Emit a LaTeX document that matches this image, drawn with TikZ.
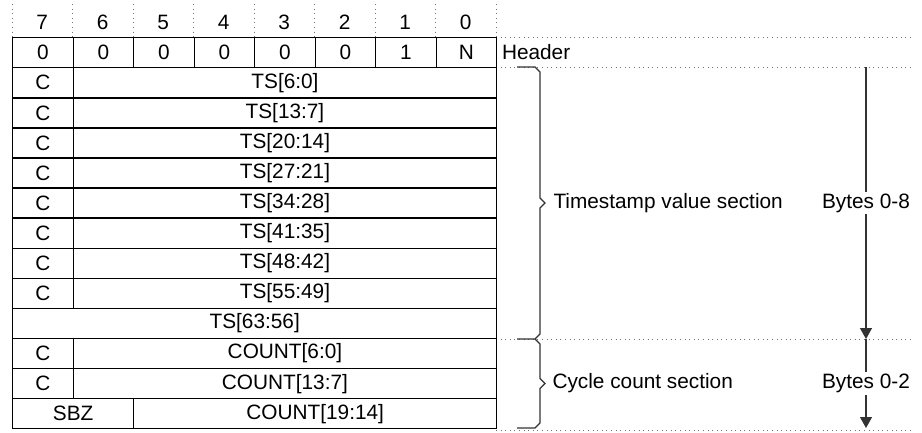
\documentclass[tikz,border=0pt]{standalone}
\usepackage{fontspec}
\setmainfont{Liberation Sans}
\usetikzlibrary{arrows.meta}

\tikzset{
  cell/.style={draw, line width=1.4pt, inner sep=0pt, minimum height=30.08pt, anchor=north west},
  guide/.style={black!55, line width=0.8pt, dash pattern=on 0.8pt off 3.8pt},
  bracket/.style={draw=black!80, line width=1.3pt},
  span/.style={draw=black!80, line width=1.3pt, -{Triangle[length=11pt,width=12pt]}},
}

\begin{document}
\begin{tikzpicture}[x=1pt,y=-1pt,font=\fontsize{20.8}{25}\selectfont]
            \useasboundingbox (0,0) rectangle (922,432);

            % bit numbers on top
            \foreach \b [count=\i from 0] in {7,6,...,0} {
                \node (bit\b) at ({42.25+60.5*\i},22) {\b};
            }
            \foreach \i in {0,...,8}
                \draw[guide] ({12+60.5*\i},4) -- ({12+60.5*\i},37);

            % section lines on the right
            \foreach \y in {37,67,339,430}
                \draw[guide] (496,\y) -- (912,\y);

            % header byte
            \foreach \v [count=\i from 0] in {0,0,0,0,0,0,1,N}
                \node[cell, minimum width=60.5pt] (h\i) at ({12+60.5*\i},37) {\v};

            % timestamp bytes
            \foreach \lbl [count=\r] in {{TS[6:0]},{TS[13:7]},{TS[20:14]},{TS[27:21]},{TS[34:28]},{TS[41:35]},{TS[48:42]},{TS[55:49]}} {
                \node[cell, minimum width=60.5pt] (c\r) at (12,{37+30.08*\r}) {C};
                \node[cell, minimum width=423.5pt] (ts\r) at (72.5,{37+30.08*\r}) {\lbl};
            }
            \node[cell, minimum width=484pt] (ts9) at (12,{37+30.08*9}) {TS[63:56]};

            % cycle count bytes
            \foreach \lbl [count=\r from 10] in {{COUNT[6:0]},{COUNT[13:7]}} {
                \node[cell, minimum width=60.5pt] (c\r) at (12,{37+30.08*\r}) {C};
                \node[cell, minimum width=423.5pt] (cnt\r) at (72.5,{37+30.08*\r}) {\lbl};
            }
            \node[cell, minimum width=121pt] (sbz) at (12,{37+30.08*12}) {SBZ};
            \node[cell, minimum width=363pt] (cnt12) at (133,{37+30.08*12}) {COUNT[19:14]};

            % labels
            \node[anchor=west] (hdr) at (498.5,52) {Header};
            \node[anchor=west] (tsname) at (550,203) {Timestamp value section};
            \node[anchor=west] (ccname) at (549,383.5) {Cycle count section};

            % brackets
            \draw[bracket] (517,67) -- (535,67) -- (540,72) -- (540,198) -- (545,203) -- (540,208)
                -- (540,334) -- (535,339) -- (517,339);
            \draw[bracket] (535,339) -- (540,344) -- (540,378.5) -- (545,383.5) -- (540,388.5)
                -- (540,423) -- (535,428) -- (517,428);

            % byte ranges
            \coordinate (a0) at (866,67);
            \coordinate (a1) at (866,339);
            \coordinate (a2) at (866,428);
            \draw[span] (a0) -- node[fill=white, inner sep=2pt] (tsbytes) {Bytes 0-8} (a1);
            \draw[span] (a1) -- node[fill=white, inner sep=2pt] (ccbytes) {Bytes 0-2} (a2);
        \end{tikzpicture}
\end{document}
